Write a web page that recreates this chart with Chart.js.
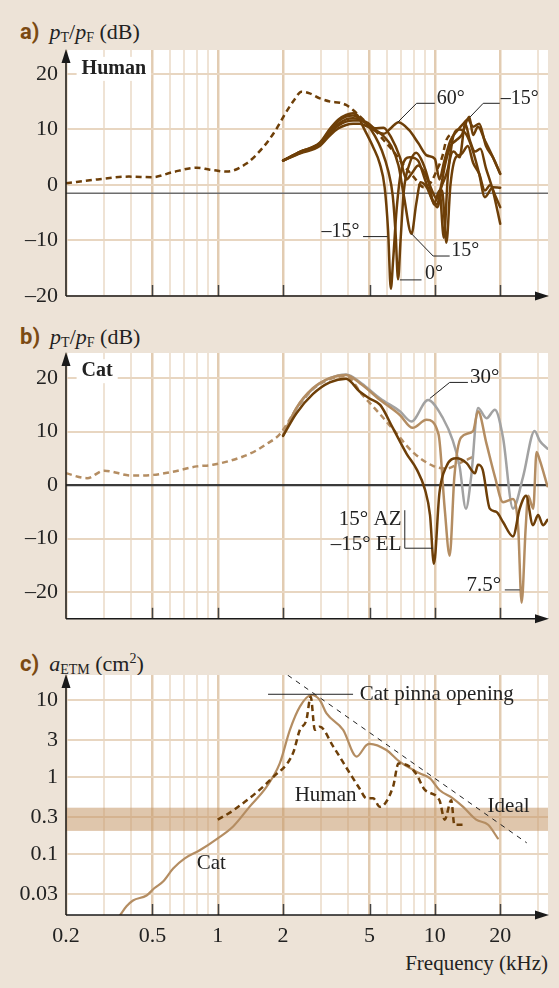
<!DOCTYPE html>
<html lang="en">
<head>
<meta charset="UTF-8">
<title>Eardrum pressure gain and effective area: human and cat</title>
<script src="https://cdn.jsdelivr.net/npm/chart.js"></script>
<style>
  * { box-sizing: border-box; margin: 0; padding: 0; }
  body { width: 559px; height: 988px; background: #ede3d7; position: relative; overflow: hidden;
         font-family: 'Liberation Serif', 'DejaVu Serif', serif; color: #222; }
  canvas { position: absolute; left: 0; }
  .ttl { position: absolute; left: 20px; font-size: 22px; line-height: 24px; white-space: nowrap; }
  .ttl b { font-family: 'Liberation Sans Narrow', 'Roboto', sans-serif; font-size: 22px; color: #7b4a12; margin-right: 10px; }
  .ttl sub, .ttl sup { font-size: 14px; font-style: normal; }
  .ttl sub { vertical-align: -3px; }
  .ttl sup { vertical-align: 8px; }
  .xt { position: absolute; right: 11px; top: 951px; font-size: 21px; line-height: 24px; }
</style>
</head>
<body>
  <div class="ttl" style="top:20px"><b>a)</b><i>p</i><sub>T</sub>/<i>p</i><sub>F</sub> (dB)</div>
  <div class="ttl" style="top:325px"><b>b)</b><i>p</i><sub>T</sub>/<i>p</i><sub>F</sub> (dB)</div>
  <div class="ttl" style="top:647px"><b>c)</b><i>a</i><sub>ETM</sub> (cm<sup>2</sup>)</div>
  <div class="xt">Frequency (kHz)</div>

  <canvas id="chartA" width="559" height="320" style="top:0"></canvas>
  <canvas id="chartB" width="559" height="320" style="top:320px"></canvas>
  <canvas id="chartC" width="559" height="348" style="top:640px"></canvas>

<script>
// --- axes ---
var freqGrid = [0.2, 0.3, 0.4, 0.5, 0.6, 0.7, 0.8, 0.9, 1, 2, 3, 4, 5, 6, 7, 8, 9, 10, 20, 30];
var freqLabels = [0.2, 0.5, 1, 2, 5, 10, 20];
var dbTicks = [-20, -10, 0, 10, 20];
var areaTicks = [0.03, 0.1, 0.3, 1, 3, 10];

// --- a) human, kHz / dB ---
var humanFree = [[0.2,0.3],[0.28,1.0],[0.39,1.5],[0.5,1.4],[0.62,2.3],[0.8,3.1],[0.92,2.75],[1.1,2.4],[1.35,3.8],[1.62,6.8],[1.85,9.9],[2.05,12.9],[2.25,15.3],[2.43,16.8],[2.65,16.5],[2.95,15.6],[3.3,15.0],[3.65,14.8],[3.9,14.4],[4.2,13.5],[4.7,11.7],[5.2,10.2],[5.8,8.1],[6.4,6.2],[7.2,3.5],[8.0,1.4],[8.9,-0.4],[9.6,0.5],[10.2,2.6],[10.8,5.0],[11.3,8.1],[12.0,9.3]];
var humanM15 = [[2.0,4.4],[2.4,6.0],[2.95,7.6],[3.3,10.2],[3.6,11.8],[3.9,12.6],[4.2,12.9],[4.45,12.3],[4.67,10.5],[5.2,6.8],[5.58,3.8],[5.87,-0.4],[6.09,-8.2],[6.27,-18.7],[6.42,-13.7],[6.66,-4.6],[7.0,2.6],[7.67,5.0],[8.36,4.4],[9.0,1.0],[9.7,-2.5],[10.2,-3.5],[10.7,0],[11.2,4],[11.8,7],[12.5,8],[13.3,9],[14.4,12.3],[15,9],[15.8,10.5],[17,8],[18.5,5],[20,2.0]];
var human0 = [[2.0,4.4],[2.4,6.0],[2.95,7.5],[3.3,10.0],[3.6,11.5],[3.9,12.3],[4.2,12.5],[4.5,12.0],[4.9,10.8],[5.3,8.8],[5.7,6.2],[6.1,2.5],[6.4,-2],[6.6,-9],[6.77,-17],[6.95,-10],[7.2,-1],[7.6,3.5],[8.2,5.8],[8.8,4],[9.4,0.5],[9.9,-3.5],[10.5,-1],[11.0,-9.5],[11.5,2],[12.2,6],[13.0,5],[13.8,11],[14.5,8],[15.3,6],[16.2,6.5],[17.2,3],[18.5,-1],[20,-7]];
var human15 = [[2.0,4.4],[2.4,5.9],[2.95,7.4],[3.3,9.7],[3.6,11.0],[3.9,11.8],[4.2,12.0],[4.5,11.8],[4.9,11.2],[5.3,10.0],[5.8,8.8],[6.3,7.0],[6.8,3.5],[7.2,-2],[7.81,-8.8],[8.2,-3.5],[8.6,0.5],[9.2,-0.5],[9.8,-3],[10.3,-4],[10.8,-1],[11.3,-10.4],[11.8,0],[12.5,5],[13.2,5.5],[14.2,7],[15,4],[16,2],[17,-1],[18,0],[19,-2],[20,-4]];
var human30 = [[2.0,4.4],[2.4,5.8],[2.95,7.2],[3.3,9.4],[3.6,10.7],[3.9,11.4],[4.2,11.6],[4.5,11.6],[4.9,11.0],[5.3,10.2],[5.8,10.3],[6.3,8.5],[6.9,5],[7.4,1.0],[7.8,2],[8.4,3.5],[9.0,2],[9.7,-1],[10.2,-2.5],[10.8,0],[11.5,3],[12.2,9],[13,10],[14,9],[15,6],[16,2],[17,-2.2],[18.5,-0.4],[20,-0.5]];
var human60 = [[2.0,4.4],[2.4,5.7],[2.95,7.0],[3.3,9.0],[3.6,10.2],[3.9,10.8],[4.2,11.0],[4.5,11.0],[4.9,10.5],[5.3,9.8],[5.8,9.2],[6.3,10.3],[6.8,11.3],[7.6,9.9],[8.4,7.5],[9.2,5.3],[10.0,4.7],[10.5,1],[11.0,4],[11.8,8],[12.7,9.8],[13.5,11],[14.2,11.8],[15.0,10.5],[16,11],[17.2,7],[18.5,5],[20,2]];
var humanRefDb = -1.5;

// --- b) cat, kHz / dB ---
var catFree = [[0.2,2.2],[0.25,1.3],[0.3,2.7],[0.4,1.8],[0.5,1.9],[0.62,2.5],[0.8,3.5],[0.95,3.8],[1.3,5.3],[1.51,6.5],[1.68,7.7],[1.93,9.5],[2.3,14.2],[2.74,17.9],[3.28,19.8],[3.9,20.4],[4.65,16.8],[5.55,13.4],[6.4,10.5],[7.9,6.2],[9.8,3.6],[11.3,3.1],[13.0,4.1],[15.0,5.3]];
var cat30 = [[2.0,9.3],[2.3,14.3],[2.74,18.0],[3.28,20.0],[3.9,20.7],[4.6,19],[5.6,16.2],[6.9,13.8],[7.8,11.9],[9.3,15.9],[10.9,12.5],[12.1,8.3],[13.0,3.5],[13.9,-4.4],[14.7,1.6],[15.8,14.4],[17.3,12.5],[18.9,14.1],[20.6,8.9],[22.9,-4.4],[25.5,1.6],[28.8,10.1],[30.4,8.3],[33,6.8]];
var cat75 = [[2.0,9.3],[2.3,14.4],[2.74,18.1],[3.28,20.0],[3.9,20.6],[4.6,18.8],[5.6,15.9],[6.9,13.1],[7.9,10.7],[9.15,12.2],[10.4,9.5],[11.1,-4.4],[11.7,-13.2],[12.3,1.6],[13.2,8.9],[15.0,10.1],[15.8,13.8],[17.3,7.7],[18.9,1.6],[20.6,-3.2],[22.9,-2.6],[24.2,-8],[25.1,-22],[26.2,-8],[26.9,-2.0],[28.4,-4.4],[29.4,6.2],[30.4,4.7],[33,-0.2]];
var catAzEl = [[2.0,9.2],[2.3,13.4],[2.74,17.0],[3.28,19.2],[3.9,19.9],[4.5,17.5],[5.0,16.2],[5.6,15.0],[6.4,10.7],[7.4,5.9],[8.26,2.9],[9.0,-0.8],[9.5,-5.6],[9.9,-14.7],[10.5,-1.4],[11.3,3.5],[12.6,5.0],[14.0,4.1],[15.3,2.2],[15.8,3.8],[16.6,2.9],[17.9,-4.4],[19.2,-5.0],[20.6,-6.9],[22.9,-9.6],[24.6,-4.4],[26.3,-2.0],[28.3,-7.5],[29.9,-5.6],[31.5,-7.5],[33,-6.5]];

// --- c) effective area, kHz / cm2 ---
var areaCat = [[0.354,0.016],[0.38,0.021],[0.407,0.025],[0.47,0.029],[0.51,0.036],[0.56,0.044],[0.623,0.065],[0.705,0.088],[0.826,0.112],[1.0,0.16],[1.18,0.23],[1.4,0.41],[1.68,0.75],[1.93,1.5],[2.15,4.1],[2.39,8.2],[2.7,11.6],[2.95,10],[3.17,6.7],[3.78,4.1],[4.36,1.84],[4.84,2.6],[5.02,2.7],[5.98,2.24],[6.88,1.58],[8.5,1.12],[9.5,0.96],[10.5,0.68],[12.1,0.53],[13.5,0.41],[15.5,0.28],[17.6,0.24],[19.5,0.16]];
var areaHuman = [[1.0,0.28],[1.18,0.37],[1.8,1.0],[2.22,2.03],[2.39,4.1],[2.56,5.5],[2.68,11],[2.8,4.1],[2.95,4.5],[3.4,2.5],[4.06,1.12],[4.5,0.71],[4.84,0.53],[5.2,0.53],[5.58,0.41],[6.42,0.75],[6.8,1.5],[7.67,1.36],[8.2,1.1],[9.0,0.68],[10.5,0.5],[11.1,0.28],[11.9,0.5],[12.3,0.24],[13.5,0.24]];
var areaIdeal = [[2.1,21],[26.5,0.14]];
var areaBand = [0.2, 0.4];

var FONT = '"Liberation Serif", "DejaVu Serif", serif';
var DARK = '#6e3f08', TAN = '#b48d62', GREY = '#a2a2a2';

function pts(a) { return a.map(function(p) { return { x: p[0], y: p[1] }; }); }
function near(list, v) { return list.some(function(t) { return Math.abs(t - v) < 1e-6 * Math.max(1, t); }); }
function dash(v) { return v < 0 ? '\u2013' + Math.abs(v) : String(v); }

function series(data, color, width, dashPat) {
  return { data: pts(data), borderColor: color, borderWidth: width, borderDash: dashPat || [],
           pointRadius: 0, fill: false, cubicInterpolationMode: 'monotone',
           borderCapStyle: dashPat ? 'butt' : 'round', borderJoinStyle: 'round' };
}

function xScale(showLabels, h) {
  return {
    type: 'logarithmic', min: 0.2, max: 33.2,
    afterBuildTicks: function(s) { s.ticks = freqGrid.map(function(v) { return { value: v }; }); },
    afterFit: function(s) { s.height = h; },
    border: { display: false },
    grid: { drawTicks: false,
      color: function(c) { return c.tick && near(freqLabels, c.tick.value) ? '#e2ccb2' : '#efe3d5'; },
      lineWidth: function(c) { return c.tick && near(freqLabels, c.tick.value) ? 2.5 : 2; } },
    ticks: { display: showLabels, autoSkip: false, maxRotation: 0, padding: 8, color: '#222',
      font: { family: FONT, size: 22 },
      callback: function(v) { return near(freqLabels, v) ? String(v) : ''; } }
  };
}

function yScale(type, min, max, ticks, fmt) {
  return {
    type: type, min: min, max: max,
    afterBuildTicks: function(s) { s.ticks = ticks.map(function(v) { return { value: v }; }); },
    afterFit: function(s) { s.width = 66; },
    border: { display: false },
    grid: { drawTicks: false, color: '#e8d6c1', lineWidth: 2 },
    ticks: { padding: 8, color: '#222', font: { family: FONT, size: 22 }, callback: fmt }
  };
}

function decor(cfg) {
  return {
    id: 'decor',
    beforeDraw: function(chart) {
      var a = chart.chartArea, ctx = chart.ctx;
      ctx.save(); ctx.fillStyle = '#fff';
      ctx.fillRect(a.left, a.top, a.right - a.left, a.bottom - a.top);
      ctx.restore();
    },
    beforeDatasetsDraw: function(chart) {
      var ctx = chart.ctx, a = chart.chartArea, y = chart.scales.y;
      ctx.save();
      if (cfg.band) {
        var y1 = y.getPixelForValue(cfg.band[1]), y0 = y.getPixelForValue(cfg.band[0]);
        ctx.fillStyle = 'rgba(196,152,104,0.55)';
        ctx.fillRect(a.left, y1, a.right - a.left, y0 - y1);
      }
      if (cfg.ref != null) {
        var py = y.getPixelForValue(cfg.ref);
        ctx.strokeStyle = cfg.refColor; ctx.lineWidth = cfg.refWidth;
        ctx.beginPath(); ctx.moveTo(a.left, py); ctx.lineTo(a.right, py); ctx.stroke();
      }
      ctx.restore();
    },
    afterDatasetsDraw: function(chart) {
      var ctx = chart.ctx, a = chart.chartArea, x = chart.scales.x, y = chart.scales.y;
      ctx.save();
      // tick marks on the frequency axis
      ctx.strokeStyle = '#444'; ctx.lineWidth = 1.5;
      freqLabels.slice(1).forEach(function(f) {
        var px = Math.round(x.getPixelForValue(f)) + 0.5;
        ctx.beginPath(); ctx.moveTo(px, a.bottom); ctx.lineTo(px, a.bottom - 11); ctx.stroke();
      });
      // axes with arrows
      ctx.strokeStyle = '#1a1a1a'; ctx.fillStyle = '#1a1a1a'; ctx.lineWidth = 1.5;
      ctx.beginPath();
      ctx.moveTo(a.left, a.bottom); ctx.lineTo(a.left, a.top + 8);
      ctx.moveTo(a.left, a.bottom); ctx.lineTo(a.right - 8, a.bottom);
      ctx.stroke();
      ctx.beginPath(); ctx.moveTo(a.left, a.top - 1); ctx.lineTo(a.left - 4.5, a.top + 13); ctx.lineTo(a.left + 4.5, a.top + 13); ctx.closePath(); ctx.fill();
      ctx.beginPath(); ctx.moveTo(a.right + 1, a.bottom); ctx.lineTo(a.right - 13, a.bottom - 4.5); ctx.lineTo(a.right - 13, a.bottom + 4.5); ctx.closePath(); ctx.fill();
      // labels and leader lines
      cfg.labels.forEach(function(l) {
        if (l.lead) {
          ctx.strokeStyle = '#222'; ctx.lineWidth = 1;
          ctx.beginPath();
          l.lead.forEach(function(p, i) {
            var px = x.getPixelForValue(p[0]), py = y.getPixelForValue(p[1]);
            if (i) ctx.lineTo(px, py); else ctx.moveTo(px, py);
          });
          ctx.stroke();
        }
        if (l.t) {
          ctx.font = (l.bold ? 'bold ' : '') + (l.size || 21) + 'px ' + FONT;
          ctx.textAlign = l.align || 'left'; ctx.textBaseline = 'middle';
          var px = x.getPixelForValue(l.x), py = y.getPixelForValue(l.y);
          if (l.box) {
            var w = ctx.measureText(l.t).width;
            ctx.fillStyle = '#fff'; ctx.fillRect(px - 5, py - 12, w + 10, 24);
          }
          ctx.fillStyle = '#222'; ctx.fillText(l.t, px, py);
        }
      });
      ctx.restore();
    }
  };
}

function makeChart(id, datasets, scales, pad, cfg) {
  return new Chart(document.getElementById(id), {
    type: 'line',
    data: { datasets: datasets },
    options: {
      responsive: false, animation: false, parsing: false, normalized: true,
      layout: { padding: pad },
      plugins: { legend: { display: false }, tooltip: { enabled: false } },
      scales: scales
    },
    plugins: [decor(cfg)]
  });
}

// a) Human
makeChart('chartA', [
  series(human60, DARK, 2.5),
  series(human30, DARK, 2.5),
  series(human15, DARK, 2.5),
  series(human0, DARK, 2.5),
  series(humanM15, DARK, 2.5),
  series(humanFree, DARK, 2.5, [6, 4])
], { x: xScale(false, 24), y: yScale('linear', -20, 24.3, dbTicks, dash) },
  { left: 0, right: 11, top: 50, bottom: 0 },
  { ref: humanRefDb, refColor: '#6d6d6d', refWidth: 1.5, labels: [
    { t: 'Human', x: 0.236, y: 20.9, bold: true, box: true, size: 20 },
    { t: '60\u00b0', x: 10.2, y: 15.5, size: 20, lead: [[6.75, 11.3], [8.24, 14.7], [10.0, 14.7]] },
    { t: '\u201315\u00b0', x: 20.1, y: 15.5, size: 20, lead: [[14.5, 12.2], [16.7, 14.7], [19.9, 14.7]] },
    { t: '\u201315\u00b0', x: 4.5, y: -8.5, size: 20, align: 'right', lead: [[4.67, -9.3], [6.05, -9.3]] },
    { t: '15\u00b0', x: 11.9, y: -11.9, size: 20, lead: [[7.81, -8.8], [9.82, -12.8], [11.7, -12.8]] },
    { t: '0\u00b0', x: 9.0, y: -16.0, size: 20, lead: [[6.9, -17.1], [8.68, -17.1]] }
  ] });

// b) Cat
makeChart('chartB', [
  series(catAzEl, DARK, 2.5),
  series(cat75, TAN, 2.5),
  series(cat30, GREY, 2.5),
  series(catFree, TAN, 2.5, [6, 4])
], { x: xScale(false, 14), y: yScale('linear', -25, 24.7, dbTicks, dash) },
  { left: 0, right: 11, top: 33, bottom: 0 },
  { ref: 0, refColor: '#3a3a3a', refWidth: 2.2, labels: [
    { t: 'Cat', x: 0.236, y: 21.3, bold: true, box: true, size: 20 },
    { t: '30\u00b0', x: 14.5, y: 20.2, lead: [[9.48, 16.2], [11.7, 19.2], [14.2, 19.2]] },
    { t: '15\u00b0 AZ', x: 7.02, y: -6.5, align: 'right' },
    { t: '\u201315\u00b0 EL', x: 7.02, y: -11.1, align: 'right', lead: [[7.27, -4.7], [7.27, -11.8], [9.76, -11.8]] },
    { t: '7.5\u00b0', x: 14.0, y: -18.7, lead: [[21.0, -19.6], [24.6, -19.6]] }
  ] });

// c) Effective area
makeChart('chartC', [
  series(areaIdeal, '#222', 1, [5, 5]),
  series(areaHuman, DARK, 2.5, [6, 4]),
  series(areaCat, TAN, 2.2)
], { x: xScale(true, 73), y: yScale('logarithmic', 0.0162, 21.1, areaTicks, function(v) { return String(v); }) },
  { left: 0, right: 11, top: 35, bottom: 0 },
  { band: areaBand, labels: [
    { t: 'Cat pinna opening', x: 4.51, y: 11.9, lead: [[1.705, 11.86], [4.2, 11.86]] },
    { t: 'Human', x: 2.26, y: 0.58 },
    { t: 'Ideal', x: 17.5, y: 0.42 },
    { t: 'Cat', x: 0.8, y: 0.076 }
  ] });
</script>
</body>
</html>
